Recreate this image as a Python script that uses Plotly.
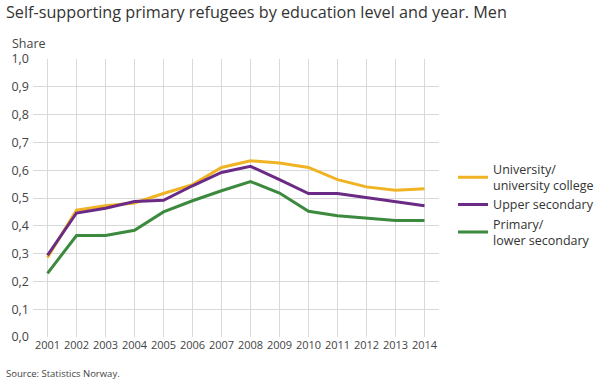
import plotly.graph_objects as go

years = [2001, 2002, 2003, 2004, 2005, 2006, 2007, 2008, 2009, 2010, 2011, 2012, 2013, 2014]
university = [0.286, 0.456, 0.472, 0.482, 0.516, 0.548, 0.610, 0.634, 0.626, 0.610, 0.566, 0.540, 0.528, 0.533]
upper_secondary = [0.294, 0.446, 0.463, 0.487, 0.492, 0.544, 0.592, 0.614, 0.566, 0.516, 0.516, 0.502, 0.486, 0.472]
primary = [0.229, 0.365, 0.365, 0.384, 0.450, 0.490, 0.526, 0.559, 0.518, 0.452, 0.436, 0.428, 0.419, 0.419]

series_names = ["University/<br>university college", "Upper secondary", "Primary/<br>lower secondary"]
series_values = [university, upper_secondary, primary]
colors = ["#F0B323", "#6A2A86", "#3B8A3E"]

fig = go.Figure()
for name, vals, c in zip(series_names, series_values, colors):
    fig.add_trace(go.Scatter(x=years, y=vals, name=name, mode="lines",
                             line=dict(color=c, width=3)))

fig.update_layout(
    width=610, height=385,
    margin=dict(l=33, r=170, t=59, b=48),
    paper_bgcolor="white", plot_bgcolor="white",
    font=dict(family="Open Sans", size=11, color="#444"),
    separators=",.",
    title=dict(text="Self-supporting primary refugees by education level and year. Men",
               xref="container", x=0.0098, xanchor="left",
               yref="container", y=0.969, yanchor="middle",
               font=dict(size=16.2, color="#333")),
    showlegend=True,
    legend=dict(x=1.032, y=0.475, xanchor="left", yanchor="middle",
                font=dict(size=12.5, color="#333"),
                bgcolor="rgba(0,0,0,0)"),
    xaxis=dict(tickmode="array", tickvals=years, ticktext=[str(y) for y in years],
               range=[2000.5, 2014.5], showgrid=True, gridcolor="#d9d9d9", gridwidth=1,
               zeroline=False, showline=False, ticks="", tickfont=dict(size=11, color="#444")),
    yaxis=dict(range=[0, 1.0], dtick=0.1, tickformat=".1f", showgrid=True,
               gridcolor="#d9d9d9", gridwidth=1, zeroline=False, showline=False,
               ticks="", ticklabelstandoff=3, tickfont=dict(size=12.5, color="#444")),
    annotations=[
        dict(text="Share", xref="paper", yref="paper", x=-0.0565, y=1.055,
             xanchor="left", yanchor="middle", showarrow=False,
             font=dict(size=12.5, color="#444")),
        dict(text="Source: Statistics Norway.", xref="paper", yref="paper",
             x=-0.0713, y=-0.133, xanchor="left", yanchor="middle", showarrow=False,
             font=dict(size=9.5, color="#444")),
    ],
)

fig.write_html("out.html", config={"displayModeBar": False},
               post_script="document.body.style.margin='0';")
